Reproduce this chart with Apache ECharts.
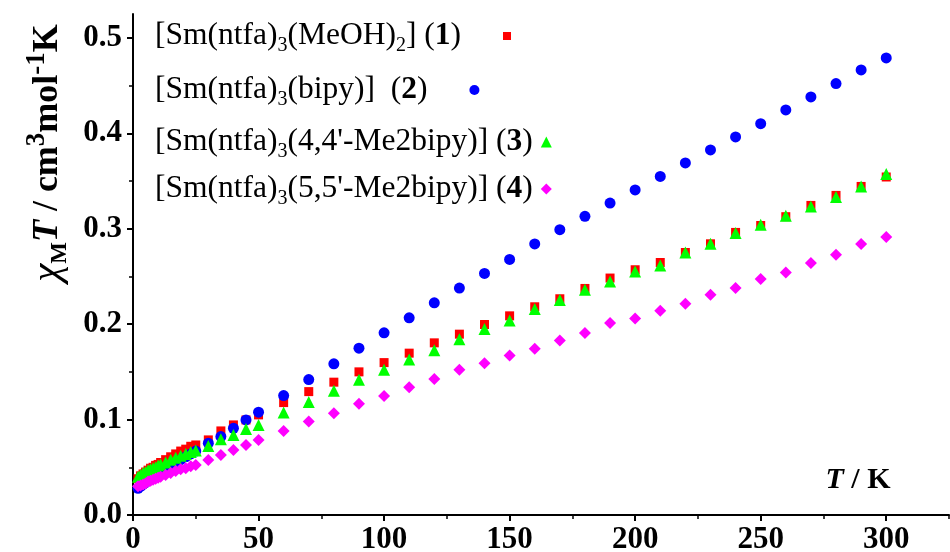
<!DOCTYPE html>
<html><head><meta charset="utf-8">
<script src="https://cdn.jsdelivr.net/npm/echarts@6/dist/echarts.min.js"></script>
<style>html,body{margin:0;padding:0;background:#fff}#c{width:950px;height:552px}</style>
</head><body><div id="c"></div>
<script>
// Temperatures (K)
const temps = [2,3,4,5,6,7,8,9,10,11,13,15,17,19,21,23,25,30,35,40,45,50,
  60,70,80,90,100,110,120,130,140,150,160,170,180,190,200,210,220,230,240,250,260,270,280,290,300];
// chi_M T (cm3 mol-1 K)
const sm1 = [0.038,0.041,0.043,0.045,0.047,0.049,0.050,0.052,0.053,0.055,0.058,0.061,0.064,0.067,0.069,0.072,0.0734,0.0787,0.0881,0.0944,0.0996,0.1049,
  0.1178,0.1293,0.1392,0.1500,0.1597,0.1696,0.1804,0.1895,0.1996,0.2087,0.2182,0.2266,0.2374,
  0.2483,0.2570,0.2646,0.2751,0.2842,0.2961,0.3034,0.3126,0.3244,0.3349,0.3443,0.3542];
const sm2 = [0.028,0.030,0.032,0.034,0.036,0.038,0.040,0.042,0.043,0.045,0.048,0.051,0.055,0.058,0.061,0.064,0.067,0.0752,0.0822,0.0909,0.0996,0.1077,
  0.1251,0.1419,0.1584,0.1748,0.1909,0.2066,0.2224,0.2378,0.2531,0.2678,0.284,0.299,0.313,
  0.3269,0.3406,0.3548,0.3689,0.3825,0.3962,0.4101,0.4245,0.4381,0.4521,0.4664,0.4790];
const sm3 = [0.040,0.042,0.044,0.045,0.047,0.048,0.049,0.050,0.052,0.053,0.055,0.058,0.060,0.062,0.064,0.066,0.0675,0.0724,0.0794,0.0839,0.0902,0.0944,
  0.1073,0.1185,0.1301,0.1416,0.1521,0.1629,0.1727,0.1843,0.1948,0.2038,0.2158,0.2252,0.2360,
  0.2447,0.2552,0.2615,0.2751,0.2842,0.2955,0.3042,0.3136,0.3234,0.3332,0.3443,0.3573];
const sm4 = [0.030,0.031,0.032,0.033,0.035,0.036,0.037,0.038,0.039,0.040,0.042,0.044,0.046,0.048,0.049,0.051,0.0524,0.0577,0.0629,0.0682,0.0734,0.0787,
  0.0881,0.0979,0.1067,0.1167,0.1248,0.1339,0.1426,0.1521,0.1591,0.1671,0.1741,0.1828,0.1906,
  0.2011,0.2059,0.2140,0.2213,0.2308,0.2378,0.2472,0.2541,0.2640,0.2727,0.2839,0.2913];

const seriesNames = ['[Sm(ntfa)3(MeOH)2] (1)','[Sm(ntfa)3(bipy)] (2)',"[Sm(ntfa)3(4,4'-Me2bipy)] (3)","[Sm(ntfa)3(5,5'-Me2bipy)] (4)"];
const legendRich = [
  '{n|[Sm(ntfa)}{s|3}{n|(MeOH)}{s|2}{n|] (}{b|1}{n|)}{g1| }',
  '{n|[Sm(ntfa)}{s|3}{n|(bipy)]  (}{b|2}{n|)}{g2| }',
  "{n|[Sm(ntfa)}{s|3}{n|(4,4'-Me2bipy)] (}{b|3}{n|)}{g3| }",
  "{n|[Sm(ntfa)}{s|3}{n|(5,5'-Me2bipy)] (}{b|4}{n|)}{g3| }"
];
const xTicks = [0,50,100,150,200,250,300];
const xMinor = [25,75,125,175,225,275,325];
const yTicks = [0,0.1,0.2,0.3,0.4,0.5];
const yMinor = [0.05,0.15,0.25,0.35,0.45];

const FF = 'Liberation Serif';
const colors = ['#ff0000','#0000ff','#00ff00','#ff00ff'];
const symbols = ['rect','circle','triangle','diamond'];
const symSizes = [9,11,12,12];
const legendIconSizes = [8,10,11,11];
const legendTops = [20,74,126,173];
const values = [sm1, sm2, sm3, sm4];

const rich = {
  n: {fontFamily: FF, fontSize: 31.5, lineHeight: 40, color: '#000'},
  s: {fontFamily: FF, fontSize: 20, lineHeight: 14, verticalAlign: 'bottom', color: '#000'},
  b: {fontFamily: FF, fontSize: 31.5, lineHeight: 40, fontWeight: 'bold', color: '#000'},
  g1: {width: 37, fontSize: 10},
  g2: {width: 37, fontSize: 10},
  g3: {width: 3, fontSize: 10}
};

const chart = echarts.init(document.getElementById('c'), null, {renderer: 'canvas'});
const axisBase = (min, max, interval) => ({
  type: 'value', min, max, interval,
  splitLine: {show: false},
  axisLine: {show: true, onZero: false, lineStyle: {color: '#000', width: 2}}
});
const option = {
  animation: false,
  backgroundColor: '#fff',
  grid: {left: 133, right: 1, top: 14, bottom: 37, containLabel: false, outerBoundsMode: 'none'},
  xAxis: [
    Object.assign(axisBase(0, 325, 50), {
      position: 'bottom',
      axisTick: {show: true, length: 6, lineStyle: {color: '#000', width: 2}, customValues: xTicks},
      axisLabel: {customValues: xTicks, margin: 9, color: '#000', fontFamily: FF, fontWeight: 'bold', fontSize: 31,
        formatter: v => String(v)}
    }),
    Object.assign(axisBase(0, 325, 50), {
      position: 'bottom',
      axisLine: {show: false},
      axisTick: {show: true, length: 4, lineStyle: {color: '#000', width: 1.5}, customValues: xMinor},
      axisLabel: {show: false}
    })
  ],
  yAxis: [
    Object.assign(axisBase(0, 0.525, 0.1), {
      position: 'left',
      axisTick: {show: true, length: 6, lineStyle: {color: '#000', width: 2}, customValues: yTicks},
      axisLabel: {customValues: yTicks, margin: 11, color: '#000', fontFamily: FF, fontWeight: 'bold', fontSize: 31,
        formatter: v => v.toFixed(1)}
    }),
    Object.assign(axisBase(0, 0.525, 0.1), {
      position: 'left',
      axisLine: {show: false},
      axisTick: {show: true, length: 4, lineStyle: {color: '#000', width: 1.5}, customValues: yMinor},
      axisLabel: {show: false}
    })
  ],
  legend: seriesNames.map((name, i) => ({
    data: [{name, icon: symbols[i]}],
    left: 155, top: legendTops[i], padding: 0, align: 'right', orient: 'horizontal',
    itemWidth: legendIconSizes[i], itemHeight: legendIconSizes[i],
    selectedMode: false,
    formatter: () => legendRich[i],
    textStyle: {rich, fontFamily: FF, fontSize: 31.5, color: '#000'}
  })),
  series: seriesNames.map((name, i) => ({
    name, type: 'scatter', xAxisIndex: 0, yAxisIndex: 0,
    symbol: symbols[i], symbolSize: symSizes[i],
    itemStyle: {color: colors[i], opacity: 1},
    emphasis: {disabled: true},
    data: temps.map((t, k) => [t, values[i][k]])
  })),
  graphic: [
    {
      type: 'text', x: 48, y: 153, rotation: Math.PI / 2,
      style: {
        text: '{chi|χ}{sub|M}{bi|T}{b| / cm}{sup|3}{b|mol}{sup|-1}{b|K}',
        align: 'center', verticalAlign: 'middle',
        rich: {
          chi: {fontFamily: FF, fontStyle: 'italic', fontSize: 41, lineHeight: 48, fill: '#000'},
          sub: {fontFamily: FF, fontWeight: 'bold', fontSize: 23, lineHeight: 26, verticalAlign: 'bottom', fill: '#000'},
          bi: {fontFamily: FF, fontWeight: 'bold', fontStyle: 'italic', fontSize: 36, lineHeight: 48, fill: '#000'},
          b: {fontFamily: FF, fontWeight: 'bold', fontSize: 36, lineHeight: 48, fill: '#000'},
          sup: {fontFamily: FF, fontWeight: 'bold', fontSize: 27, lineHeight: 20, verticalAlign: 'top', fill: '#000'}
        }
      }
    },
    {
      type: 'text', x: 858, y: 480,
      style: {
        text: '{bi|T}{b| / K}',
        align: 'center', verticalAlign: 'middle',
        rich: {
          bi: {fontFamily: FF, fontWeight: 'bold', fontStyle: 'italic', fontSize: 30, lineHeight: 36, fill: '#000'},
          b: {fontFamily: FF, fontWeight: 'bold', fontSize: 30, lineHeight: 36, fill: '#000'}
        }
      }
    }
  ]
};
chart.setOption(option);
</script>
</body></html>
